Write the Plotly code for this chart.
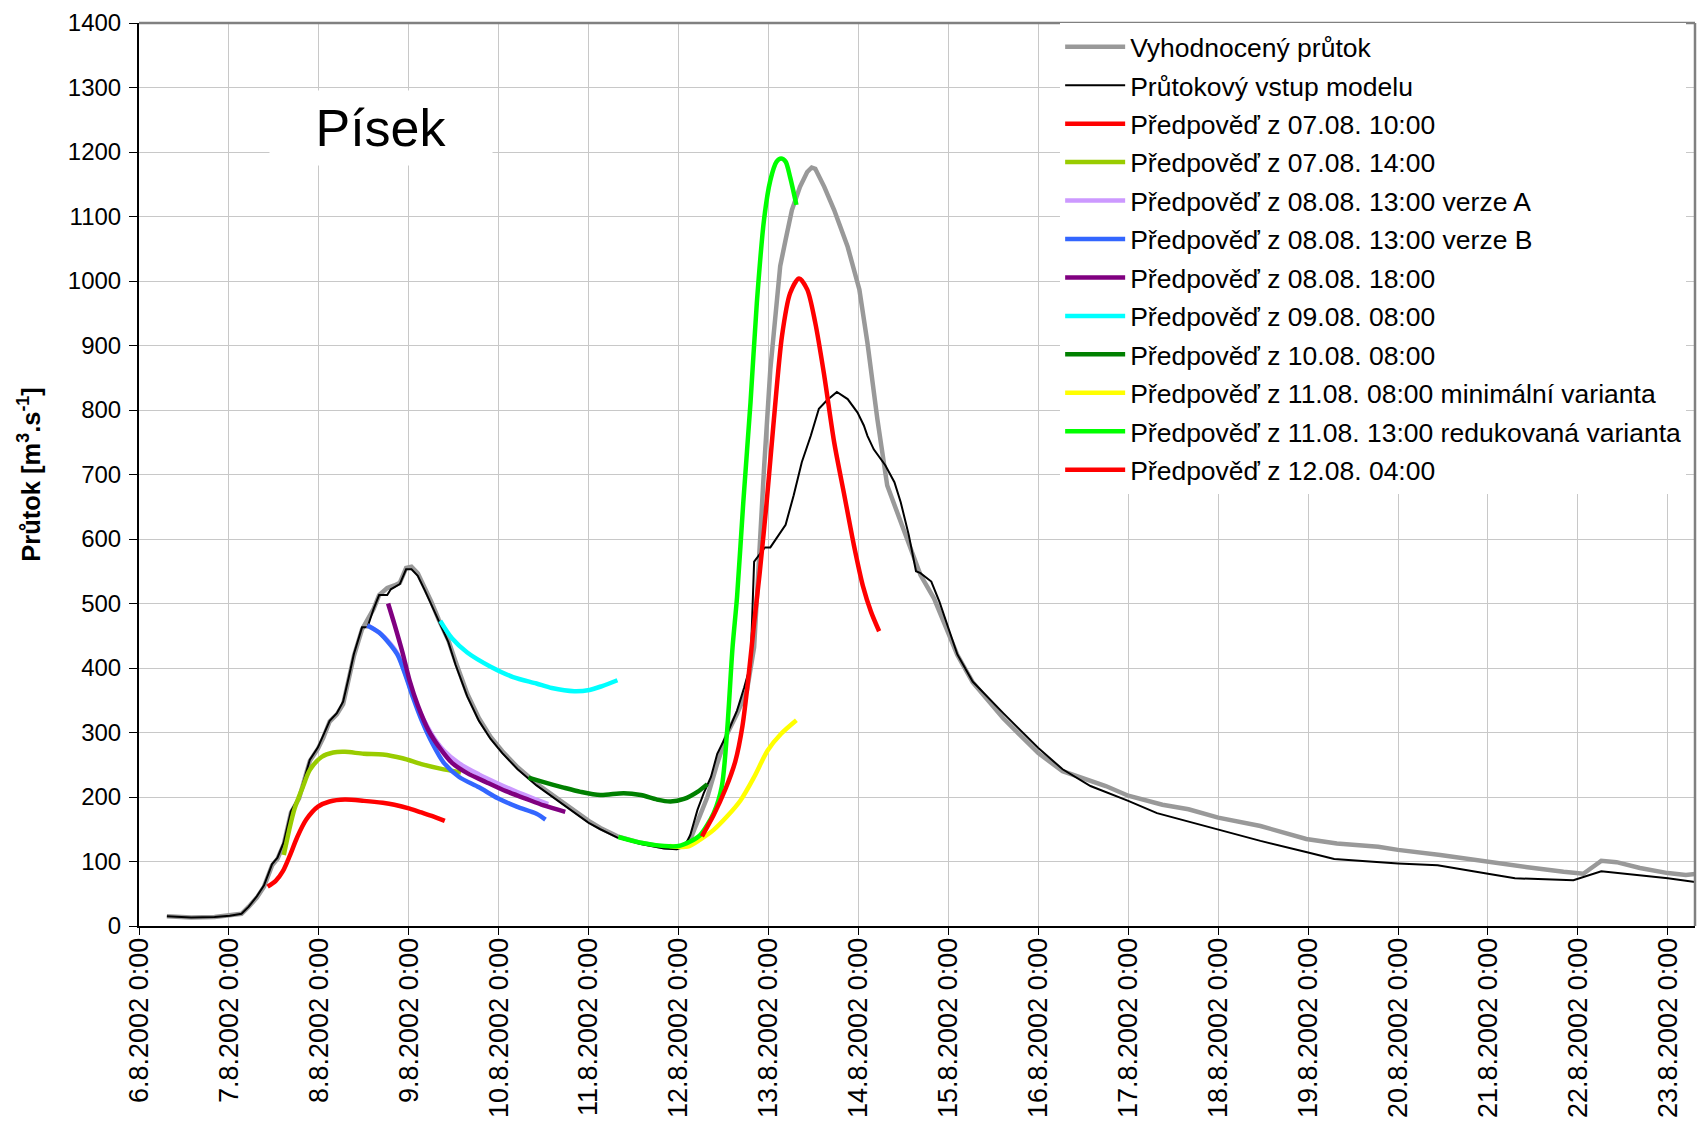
import plotly.graph_objects as go
from datetime import datetime, timedelta

# ---------------- data (x = day of August 2002 with fraction, y = m3/s) -------------
tick_days = [6, 7, 8, 9, 10, 11, 12, 13, 14, 15, 16, 17, 18, 19, 20, 21, 22, 23]
tick_text = ["6.8.2002 0:00", "7.8.2002 0:00", "8.8.2002 0:00", "9.8.2002 0:00",
             "10.8.2002 0:00", "11.8.2002 0:00", "12.8.2002 0:00", "13.8.2002 0:00",
             "14.8.2002 0:00", "15.8.2002 0:00", "16.8.2002 0:00", "17.8.2002 0:00",
             "18.8.2002 0:00", "19.8.2002 0:00", "20.8.2002 0:00", "21.8.2002 0:00",
             "22.8.2002 0:00", "23.8.2002 0:00"]
y_ticks = [0, 100, 200, 300, 400, 500, 600, 700, 800, 900, 1000, 1100, 1200, 1300, 1400]

obs_d = [6.31, 6.58, 6.84, 7.01, 7.14, 7.22, 7.31, 7.39, 7.48, 7.54, 7.61, 7.69, 7.78, 7.86,
         7.90, 7.99, 8.05, 8.12, 8.20, 8.27, 8.33, 8.39, 8.48, 8.56, 8.61, 8.67, 8.76, 8.84,
         8.90, 8.97, 9.03, 9.10, 9.18, 9.25, 9.33, 9.44, 9.52, 9.65, 9.78, 9.91, 10.04, 10.21,
         10.42, 10.64, 10.85, 11.0, 11.13, 11.32, 11.58, 11.84, 11.98, 12.06, 12.13, 12.24,
         12.32, 12.43, 12.54, 12.65, 12.76, 12.84, 12.88, 12.95, 13.02, 13.09, 13.13, 13.19,
         13.26, 13.35, 13.43, 13.48, 13.52, 13.62, 13.73, 13.88, 14.01, 14.10, 14.21, 14.32,
         14.43, 14.55, 14.69, 14.84, 15.0, 15.1, 15.27, 15.61, 16.0, 16.27, 16.75, 17.0, 17.38,
         17.67, 18.0, 18.47, 18.98, 19.32, 19.78, 20.0, 20.47, 21.0, 21.44, 21.84, 22.06, 22.2,
         22.26, 22.43, 22.69, 23.0, 23.2, 23.32]
obs_q = [15, 13, 14, 17, 19, 30, 44, 61, 94, 104, 127, 176, 198, 237,
         256, 275, 292, 317, 328, 344, 380, 419, 460, 478, 492, 513, 524, 528,
         532, 555, 557, 547, 525, 503, 476, 443, 410, 360, 322, 293, 271, 246,
         221, 199, 177, 163, 152, 139, 129, 122, 121, 124, 134, 175,
         200, 252, 298, 329, 365, 432, 535, 709, 863, 966, 1023, 1064,
         1110, 1146, 1169, 1176, 1174, 1146, 1110, 1053, 987, 904, 786, 683,
         642, 601, 544, 508, 455, 420, 378, 322, 268, 240, 217, 202, 188,
         181, 168, 155, 135, 128, 123, 118, 110, 99, 91, 84, 81, 95,
         101, 99, 90, 82, 79, 81]

model_d = [6.31, 6.58, 6.84, 7.01, 7.14, 7.22, 7.31, 7.39, 7.48, 7.54, 7.61, 7.69, 7.78, 7.86,
           7.90, 7.99, 8.05, 8.12, 8.20, 8.27, 8.33, 8.39, 8.48, 8.54, 8.61, 8.67, 8.76, 8.80,
           8.90, 8.97, 9.03, 9.10, 9.18, 9.25, 9.33, 9.44, 9.52, 9.65, 9.78, 9.91, 10.04, 10.21,
           10.42, 10.64, 10.85, 11.0, 11.13, 11.32, 11.58, 11.84, 11.98, 12.03, 12.09, 12.13,
           12.21, 12.28, 12.36, 12.43, 12.54, 12.65, 12.73, 12.80, 12.84, 12.96, 13.02, 13.09,
           13.19, 13.28, 13.37, 13.47, 13.56, 13.65, 13.76, 13.88, 13.99, 14.06, 14.10, 14.17,
           14.30, 14.40, 14.47, 14.56, 14.64, 14.69, 14.81, 14.90, 15.0, 15.1, 15.27, 15.61,
           16.0, 16.27, 16.58, 17.0, 17.32, 18.0, 18.47, 19.0, 19.29, 20.0, 20.44, 21.0, 21.3,
           21.95, 22.26, 23.0, 23.32]
model_q = [15, 13, 14, 16, 19, 30, 46, 63, 96, 106, 130, 178, 200, 240,
           258, 277, 295, 318, 330, 348, 384, 422, 463, 463, 492, 513, 513, 522,
           530, 553, 553, 543, 520, 498, 472, 440, 405, 356, 318, 290, 268, 243,
           218, 196, 174, 160, 150, 137, 127, 120, 119, 122, 130, 141,
           180, 206, 231, 267, 298, 334, 370, 405, 565, 587, 587, 601,
           622, 668, 719, 760, 802, 815, 828, 817, 796, 776, 760, 739,
           714, 688, 657, 606, 550, 547, 534, 503, 462, 421, 379, 330,
           276, 243, 217, 194, 175, 149, 132, 114, 104, 97, 94, 81, 74,
           71, 85, 74, 68]

f0710_d = [7.43, 7.52, 7.60, 7.68, 7.76, 7.86, 7.99, 8.12, 8.29, 8.50, 8.71, 8.84, 9.01, 9.14, 9.27, 9.40]
f0710_q = [61, 70, 85, 110, 138, 165, 185, 193, 196, 194, 191, 188, 182, 176, 170, 163]

f0714_d = [7.61, 7.67, 7.73, 7.82, 7.90, 8.03, 8.16, 8.29, 8.50, 8.71, 8.93, 9.14, 9.35, 9.58]
f0714_q = [110, 149, 182, 215, 242, 262, 269, 270, 267, 266, 260, 251, 244, 238]

f0813a_d = [8.54, 8.67, 8.80, 8.88, 8.97, 9.05, 9.14, 9.27, 9.39, 9.56, 9.78, 9.99, 10.20, 10.42, 10.55]
f0813a_q = [466, 455, 437, 421, 388, 356, 327, 294, 272, 252, 235, 221, 208, 196, 189]

f0813b_d = [8.54, 8.67, 8.80, 8.88, 8.97, 9.05, 9.14, 9.27, 9.39, 9.56, 9.78, 9.99, 10.20, 10.42, 10.52]
f0813b_q = [466, 455, 435, 419, 386, 353, 320, 281, 253, 231, 215, 198, 185, 174, 165]

f0818_d = [8.77, 8.84, 8.93, 9.01, 9.10, 9.22, 9.35, 9.48, 9.65, 9.86, 10.08, 10.29, 10.50, 10.74]
f0818_q = [500, 468, 424, 380, 342, 303, 275, 253, 237, 223, 209, 198, 187, 177]

f0908_d = [9.35, 9.48, 9.65, 9.91, 10.16, 10.42, 10.59, 10.84, 11.01, 11.15, 11.32]
f0908_q = [473, 446, 424, 402, 386, 376, 369, 364, 366, 372, 381]

f1008_d = [10.33, 10.50, 10.71, 10.91, 11.13, 11.39, 11.58, 11.76, 11.91, 12.06, 12.21, 12.32]
f1008_q = [230, 223, 215, 208, 203, 206, 203, 196, 193, 197, 208, 220]

f1108min_d = [11.90, 12.10, 12.24, 12.39, 12.54, 12.69, 12.84, 12.99, 13.14, 13.31]
f1108min_q = [124, 123, 134, 149, 170, 195, 231, 272, 298, 319]

f1113red_d = [11.33, 11.58, 11.84, 12.0, 12.13, 12.24, 12.39, 12.48, 12.54, 12.60, 12.65, 12.72,
              12.80, 12.87, 12.95, 13.02, 13.09, 13.14, 13.19, 13.24, 13.31]
f1113red_q = [138, 129, 124, 124, 131, 141, 175, 216, 303, 432, 510, 658,
              812, 966, 1095, 1156, 1185, 1190, 1185, 1161, 1118]

f1204_d = [12.26, 12.39, 12.52, 12.63, 12.71, 12.78, 12.84, 12.90, 12.98, 13.06, 13.15, 13.24,
           13.34, 13.43, 13.52, 13.62, 13.73, 13.84, 13.95, 14.05, 14.14, 14.23]
f1204_q = [139, 172, 212, 255, 310, 390, 470, 545, 658, 786, 915, 981,
           1004, 987, 935, 853, 750, 670, 590, 527, 487, 457]

names = ["Vyhodnocený průtok", "Průtokový vstup modelu",
         "Předpověď z 07.08. 10:00", "Předpověď z 07.08. 14:00",
         "Předpověď z 08.08. 13:00 verze A", "Předpověď z 08.08. 13:00 verze B",
         "Předpověď z 08.08. 18:00", "Předpověď z 09.08. 08:00",
         "Předpověď z 10.08. 08:00", "Předpověď z 11.08. 08:00 minimální varianta",
         "Předpověď z 11.08. 13:00 redukovaná varianta", "Předpověď z 12.08. 04:00"]


def to_dt(days):
    return [datetime(2002, 8, 1) + timedelta(days=d - 1) for d in days]


series = [
    (obs_d, obs_q, "#999999", 4.5, "linear"),
    (model_d, model_q, "#000000", 2, "linear"),
    (f0710_d, f0710_q, "#FF0000", 4.5, "spline"),
    (f0714_d, f0714_q, "#99CC00", 4.5, "spline"),
    (f0813a_d, f0813a_q, "#CC99FF", 4.5, "spline"),
    (f0813b_d, f0813b_q, "#3366FF", 4.5, "spline"),
    (f0818_d, f0818_q, "#800080", 4.5, "spline"),
    (f0908_d, f0908_q, "#00FFFF", 4.5, "spline"),
    (f1008_d, f1008_q, "#008000", 4.5, "spline"),
    (f1108min_d, f1108min_q, "#FFFF00", 4.5, "spline"),
    (f1113red_d, f1113red_q, "#00FF00", 4.5, "spline"),
    (f1204_d, f1204_q, "#FF0000", 4.5, "spline"),
]

fig = go.Figure()
for i, (d, q, col, w, shape) in enumerate(series):
    fig.add_trace(go.Scatter(
        x=to_dt(d), y=q, mode="lines", name=names[i], legendgroup="g%d" % i,
        line=dict(color=col, width=w, shape=shape, smoothing=0.8 if shape == "spline" else None),
    ))

FONT = "Arial, Liberation Sans, sans-serif"
fig.update_layout(
    width=1704, height=1127,
    margin=dict(l=139, r=9, t=20, b=201),
    paper_bgcolor="white", plot_bgcolor="white",
    font=dict(family=FONT, size=24, color="black"),
    showlegend=True,
    legend=dict(
        x=0.592, y=1.0, xanchor="left", yanchor="top",
        bgcolor="white", borderwidth=0,
        font=dict(family=FONT, size=26.5, color="black"),
        tracegroupgap=1, itemwidth=60,
    ),
    xaxis=dict(
        type="date",
        range=[datetime(2002, 8, 6), datetime(2002, 8, 23, 7, 15)],
        tickmode="array", tickvals=to_dt(tick_days), ticktext=tick_text,
        tickangle=-90, ticks="outside", ticklen=7, tickcolor="black", tickwidth=1,
        ticklabelstandoff=-8,
        showgrid=True, gridcolor="#C8C8C8", gridwidth=1,
        showline=True, linecolor="black", linewidth=2,
        zeroline=False,
        tickfont=dict(family=FONT, size=27, color="black"),
    ),
    yaxis=dict(
        range=[0, 1400], tickmode="array", tickvals=y_ticks,
        ticks="outside", ticklen=8, tickcolor="black", tickwidth=1,
        ticklabelstandoff=3,
        showgrid=True, gridcolor="#C8C8C8", gridwidth=1,
        showline=True, linecolor="black", linewidth=2,
        zeroline=False,
        tickfont=dict(family=FONT, size=24, color="black"),
        title=dict(text="<b>Průtok [m<sup>3</sup>.s<sup>-1</sup>]</b>",
                   font=dict(family=FONT, size=25.5, color="black"), standoff=20),
    ),
    annotations=[dict(
        x=to_dt([8.69])[0], y=1237, xref="x", yref="y", text="Písek",
        showarrow=False, font=dict(family=FONT, size=52, color="black"),
        bgcolor="white", width=220, height=72,
    )],
    shapes=[
        dict(type="line", xref="paper", yref="paper", x0=0, x1=1, y0=1, y1=1,
             line=dict(color="#808080", width=2.5)),
        dict(type="line", xref="paper", yref="paper", x0=1, x1=1, y0=0, y1=1,
             line=dict(color="#808080", width=2.5)),
    ],
)

fig.write_html("out.html", config={"displayModeBar": False},
               post_script="document.body.style.margin='0';document.body.style.overflow='hidden';")
